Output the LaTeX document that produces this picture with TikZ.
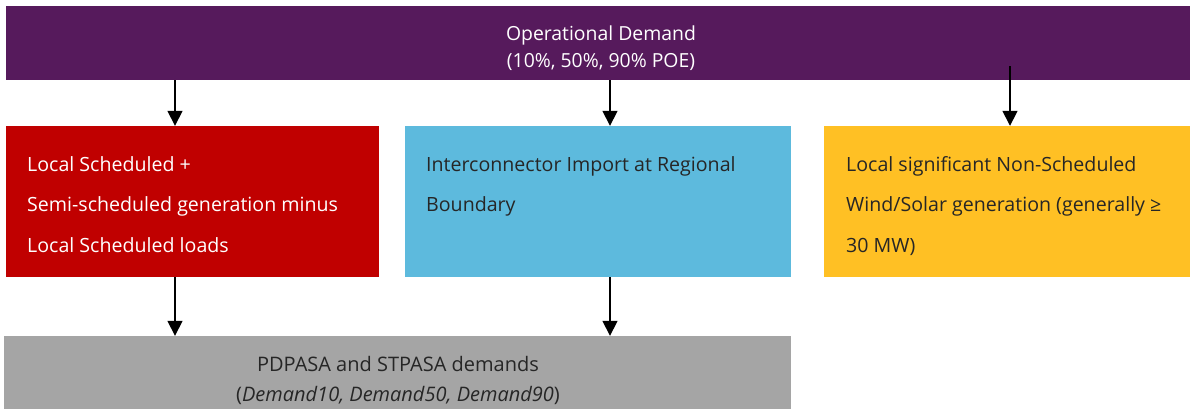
\documentclass[tikz,border=0pt]{standalone}
\usepackage{fontspec}
\setmainfont{Open Sans}
\usetikzlibrary{arrows.meta}
\definecolor{opdemand}{RGB}{86,26,92}
\definecolor{localred}{RGB}{192,0,0}
\definecolor{icblue}{RGB}{93,186,221}
\definecolor{nsorange}{RGB}{255,192,36}
\definecolor{pasagray}{RGB}{165,165,165}
\definecolor{darktext}{RGB}{38,38,38}
\tikzset{
  block/.style={shape=rectangle, inner sep=0pt, minimum height=151pt},
  boxtext/.style={anchor=north west, inner sep=0pt, align=left,
    font=\fontsize{19.6}{40.5}\selectfont},
  midtext/.style={inner sep=0pt, align=center},
  flow/.style={->, line width=1.6pt}
}

\begin{document}
\begin{tikzpicture}[x=1pt, y=-1pt, >={Triangle[length=15pt,width=15pt]}]
      \useasboundingbox (0,0) rectangle (1190,408);
      \clip (0,0) rectangle (1190,408);
      \node at (598,43)[fill=opdemand, shape=rectangle, minimum width=1184pt, minimum height=74pt, inner sep=0pt] (demand){};
      \node at (192.5,201.5)[block, fill=localred, minimum width=373pt] (local){};
      \node at (598,201.5)[block, fill=icblue, minimum width=386pt] (inter){};
      \node at (1007,201.5)[block, fill=nsorange, minimum width=366pt] (nonsched){};
      \node at (397.5,382)[fill=pasagray, shape=rectangle, minimum width=787pt, minimum height=92pt, inner sep=0pt] (pasa){};
      \node at (601,48)[midtext, text=white, font=\fontsize{19.4}{26.5}\selectfont] (demandtxt)
        {Operational Demand\\(10\%, 50\%, 90\% POE)};
      \node at (398,380)[midtext, text=darktext, font=\fontsize{20}{30}\selectfont] (pasatxt)
        {PDPASA and STPASA demands\\(\textit{Demand10, Demand50, Demand90})};
      \node at (27,156)[boxtext, text=white] (localtxt)
        {Local Scheduled +\\Semi-scheduled generation minus\\Local Scheduled loads};
      \node at (426,156)[boxtext, text=darktext] (intertxt)
        {Interconnector Import at Regional\\Boundary};
      \node at (846,156)[boxtext, text=darktext] (nonschedtxt)
        {Local significant Non-Scheduled\\Wind/Solar generation (generally ≥\\30 MW)};
      \coordinate (wstart) at (1010,66);
      \draw[flow] (demand.south -| 175,0) -- (175,0 |- local.north);
      \draw[flow] (demand.south -| 610,0) -- (610,0 |- inter.north);
      \draw[flow] (wstart) -- (wstart |- nonsched.north);
      \draw[flow] (local.south -| 175,0) -- (175,0 |- pasa.north);
      \draw[flow] (inter.south -| 610,0) -- (610,0 |- pasa.north);
\end{tikzpicture}
\end{document}
